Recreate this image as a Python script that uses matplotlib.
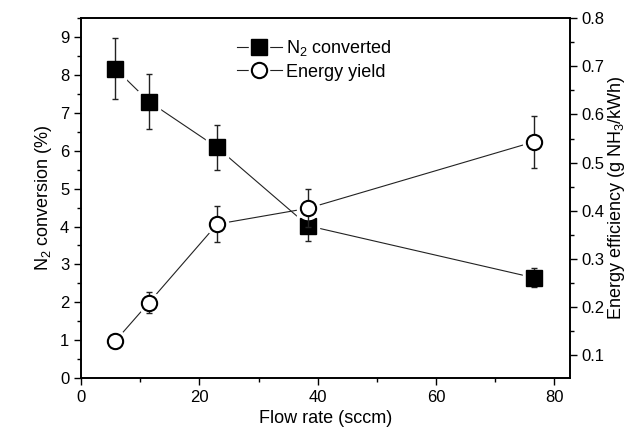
import matplotlib.pyplot as plt
from matplotlib.ticker import MultipleLocator
from matplotlib.legend_handler import HandlerTuple

plt.rcParams['font.family'] = ['Liberation Sans', 'DejaVu Sans']
plt.rcParams['mathtext.fontset'] = 'custom'
plt.rcParams['mathtext.rm'] = 'Liberation Sans'
plt.rcParams['mathtext.it'] = 'Liberation Sans'

# data
flow = [5.8, 11.5, 23.0, 38.4, 76.5]
conv = [8.17, 7.30, 6.09, 4.02, 2.65]
conv_err = [0.80, 0.73, 0.60, 0.40, 0.25]
eff = [0.129, 0.209, 0.372, 0.405, 0.543]
eff_err = [0.015, 0.021, 0.037, 0.040, 0.054]

fig = plt.figure(figsize=(6.33, 4.36), dpi=100)
ax = fig.add_axes([0.128, 0.133, 0.772, 0.825])
ax2 = ax.twinx()

# N2 converted (left axis)
ax.plot(flow, conv, color='#222222', lw=0.8, zorder=1)
ax.plot(flow, conv, ls='none', marker='s', ms=16, mfc='white', mec='white', zorder=2)
ax.errorbar(flow, conv, yerr=conv_err, fmt='none', ecolor='#222222', elinewidth=1.0,
            capsize=2.5, capthick=1.0, zorder=3)
ax.plot(flow, conv, ls='none', marker='s', ms=11.5, mfc='black', mec='black', zorder=4)

# Energy yield (right axis)
ax2.plot(flow, eff, color='#222222', lw=0.8, zorder=1)
ax2.plot(flow, eff, ls='none', marker='o', ms=16, mfc='white', mec='white', zorder=2)
ax2.errorbar(flow, eff, yerr=eff_err, fmt='none', ecolor='#222222', elinewidth=1.0,
             capsize=2.5, capthick=1.0, zorder=3)
ax2.plot(flow, eff, ls='none', marker='o', ms=11, mfc='white', mec='black', mew=1.5, zorder=4)

# legend (line - gap - marker - gap - line)
ln, = ax.plot([], [], color='#222222', lw=0.8)
halo_s, = ax.plot([], [], ls='none', marker='s', ms=14.5, mfc='white', mec='white')
mk_s, = ax.plot([], [], ls='none', marker='s', ms=11.5, mfc='black', mec='black')
halo_o, = ax.plot([], [], ls='none', marker='o', ms=14.5, mfc='white', mec='white')
mk_o, = ax.plot([], [], ls='none', marker='o', ms=11, mfc='white', mec='black', mew=1.5)
ax.legend([(ln, halo_s, mk_s), (ln, halo_o, mk_o)], ['N$_2$ converted', 'Energy yield'],
          handler_map={tuple: HandlerTuple(ndivide=1)},
          loc='upper left', bbox_to_anchor=(0.285, 0.99), frameon=False, fontsize=13,
          handlelength=2.5, handletextpad=0.25, labelspacing=0.3)

ax.set_xlim(0, 82.6)
ax.set_ylim(0, 9.5)
ax2.set_ylim(0.052, 0.8)

ax.xaxis.set_major_locator(MultipleLocator(20))
ax.xaxis.set_minor_locator(MultipleLocator(10))
ax.yaxis.set_major_locator(MultipleLocator(1))
ax.yaxis.set_minor_locator(MultipleLocator(0.5))
ax2.yaxis.set_major_locator(MultipleLocator(0.1))
ax2.yaxis.set_minor_locator(MultipleLocator(0.05))
ax2.set_yticks([0.1, 0.2, 0.3, 0.4, 0.5, 0.6, 0.7, 0.8])

for a in (ax, ax2):
    a.tick_params(which='major', direction='out', length=5, width=1.0, labelsize=12)
    a.tick_params(which='minor', direction='out', length=3, width=1.0)
    for s in a.spines.values():
        s.set_linewidth(1.2)

ax.set_xlabel('Flow rate (sccm)', fontsize=13)
ax.set_ylabel('N$_2$ conversion (%)', fontsize=13)
ax2.set_ylabel('Energy efficiency (g NH$_3$/kWh)', fontsize=13, labelpad=1)

fig.savefig('out.png', dpi=100)
